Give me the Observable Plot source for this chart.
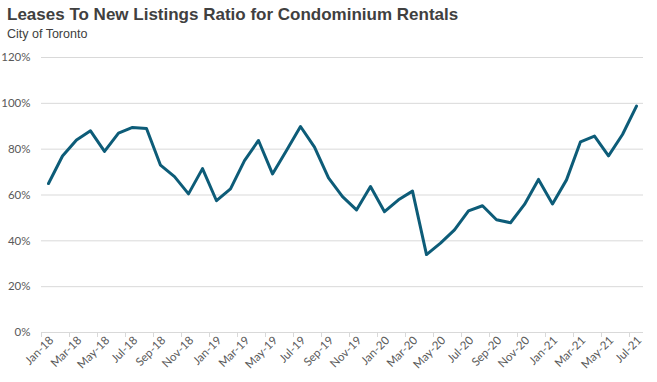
<!DOCTYPE html>
<html>
<head>
<meta charset="utf-8">
<script src="https://cdn.jsdelivr.net/npm/d3@7"></script>
<script src="https://cdn.jsdelivr.net/npm/@observablehq/plot@0.6"></script>
<style>
  html, body { margin: 0; padding: 0; background: #fff; }
  #wrap { width: 657px; height: 382px; position: relative; overflow: hidden; }
  #title { position: absolute; left: 7px; top: 5px; font: bold 17px "Liberation Sans", Arial, sans-serif; color: #404040; white-space: nowrap; }
  #subtitle { position: absolute; left: 7px; top: 27px; font: 12.5px "Liberation Sans", Arial, sans-serif; color: #404040; white-space: nowrap; }
  #chart { position: absolute; left: 0; top: 48px; }
</style>
</head>
<body>
<div id="wrap">
  <div id="title">Leases To New Listings Ratio for Condominium Rentals</div>
  <div id="subtitle">City of Toronto</div>
  <div id="chart"></div>
</div>
<script>
const months = [
  "Jan-18","Feb-18","Mar-18","Apr-18","May-18","Jun-18","Jul-18","Aug-18","Sep-18","Oct-18","Nov-18","Dec-18",
  "Jan-19","Feb-19","Mar-19","Apr-19","May-19","Jun-19","Jul-19","Aug-19","Sep-19","Oct-19","Nov-19","Dec-19",
  "Jan-20","Feb-20","Mar-20","Apr-20","May-20","Jun-20","Jul-20","Aug-20","Sep-20","Oct-20","Nov-20","Dec-20",
  "Jan-21","Feb-21","Mar-21","Apr-21","May-21","Jun-21","Jul-21"
];
const ratio = [
  65, 77, 84, 88, 79, 87, 89.5, 89, 73, 68, 60.5, 71.5,
  57.5, 62.7, 75, 83.8, 69.2, 79.4, 89.9, 80.9, 67.5, 59.3, 53.5, 63.7,
  52.7, 57.9, 61.7, 34, 39, 44.8, 53.1, 55.3, 49.2, 47.9, 55.9, 66.8,
  56.1, 66.6, 83.2, 85.7, 77.1, 86.4, 98.8
];
const yTicks = [0, 20, 40, 60, 80, 100, 120];
const xLabels = months.filter((m, i) => i % 2 === 0);

const data = months.map((m, i) => ({month: m, value: ratio[i]}));

const chart = Plot.plot({
  width: 657,
  height: 334,
  marginLeft: 41,
  marginRight: 14,
  marginTop: 9,
  marginBottom: 50,
  style: {fontFamily: "Lato, 'Open Sans', sans-serif", fontSize: "11px", color: "#595959", background: "#fff"},
  x: {type: "point", domain: months, padding: 0.5, label: null},
  y: {domain: [0, 120], label: null},
  marks: [
    Plot.gridY(yTicks, {stroke: "#d9d9d9", strokeOpacity: 1, strokeWidth: 1}),
    Plot.axisY(yTicks, {tickSize: 0, tickPadding: 11, tickFormat: d => d + "%", fontSize: 11.5, fill: "#595959", label: null}),
    Plot.axisX(xLabels, {tickSize: 5, dx: -7, tickFormat: () => "", stroke: "#d9d9d9", label: null}),
    Plot.axisX(xLabels, {tickSize: 0, tickRotate: -45, tickPadding: 6, dx: 3, fontSize: 11.5, fill: "#595959", label: null}),
    Plot.lineY(data, {x: "month", y: "value", stroke: "#0D5C78", strokeWidth: 3, strokeLinejoin: "round", strokeLinecap: "round"})
  ]
});
document.getElementById("chart").appendChild(chart);
</script>
</body>
</html>
